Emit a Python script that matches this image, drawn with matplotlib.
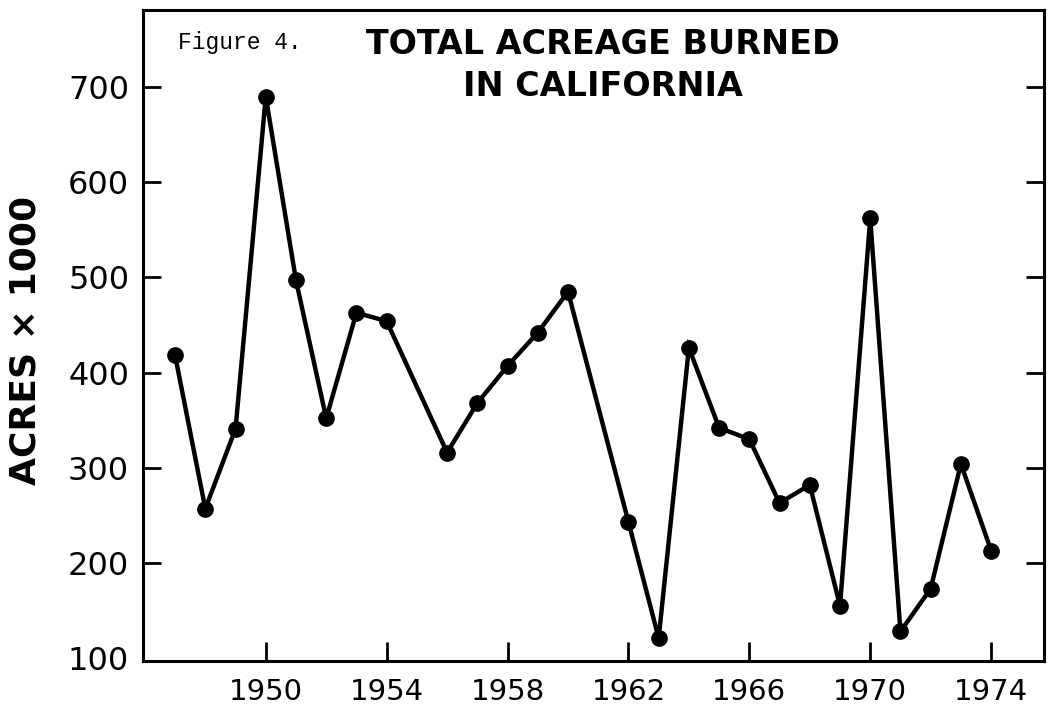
import numpy as np
import matplotlib
matplotlib.use("Agg")
import matplotlib.pyplot as plt

years = [1947, 1948, 1949, 1950, 1951, 1952, 1953, 1954, 1956, 1957, 1958,
         1959, 1960, 1962, 1963, 1964, 1965, 1966, 1967, 1968, 1969, 1970,
         1971, 1972, 1973, 1974]
acres = [418, 257, 341, 690, 497, 352, 463, 454, 316, 368, 407,
         442, 485, 243, 121, 426, 342, 330, 263, 282, 155, 562,
         128, 173, 304, 213]

xticks = [1950, 1954, 1958, 1962, 1966, 1970, 1974]
yticks = [100, 200, 300, 400, 500, 600, 700]

fig = plt.figure(figsize=(10.48, 7.08), dpi=100)
ax = fig.add_axes([0.1365, 0.0664, 0.8597, 0.9195])

ax.plot(years, acres, color="black", lw=3.2, marker="o", ms=11,
        markerfacecolor="black", markeredgecolor="black", solid_joinstyle="miter")

ax.set_xlim(1945.94, 1975.75)
ax.set_ylim(97, 781)
ax.set_xticks(xticks)
ax.set_yticks(yticks)

for s in ax.spines.values():
    s.set_linewidth(2.2)

ax.tick_params(axis="x", direction="in", length=14, width=2, pad=12, labelsize=21)
ax.tick_params(axis="y", direction="in", length=13, width=2, pad=10, labelsize=23,
               right=True)
# no tick mark at 100, it sits on the bottom line
t0 = ax.yaxis.get_major_ticks()[0]
t0.tick1line.set_visible(False)
t0.tick2line.set_visible(False)

fig.text(26/1048, 1 - 340/708, "ACRES × 1000", rotation=90, ha="center", va="center",
         fontsize=26, fontweight="bold")

ax.text(603/1048, 1 - 44/708, "TOTAL ACREAGE BURNED", transform=fig.transFigure,
        ha="center", va="center", fontsize=24, fontweight="bold")
ax.text(603/1048, 1 - 86/708, "IN CALIFORNIA", transform=fig.transFigure,
        ha="center", va="center", fontsize=24, fontweight="bold")
ax.text(178/1048, 1 - 42/708, "Figure 4.", transform=fig.transFigure,
        ha="left", va="center", fontsize=16.5, family="Liberation Mono")

fig.savefig("out.png", dpi=100)
